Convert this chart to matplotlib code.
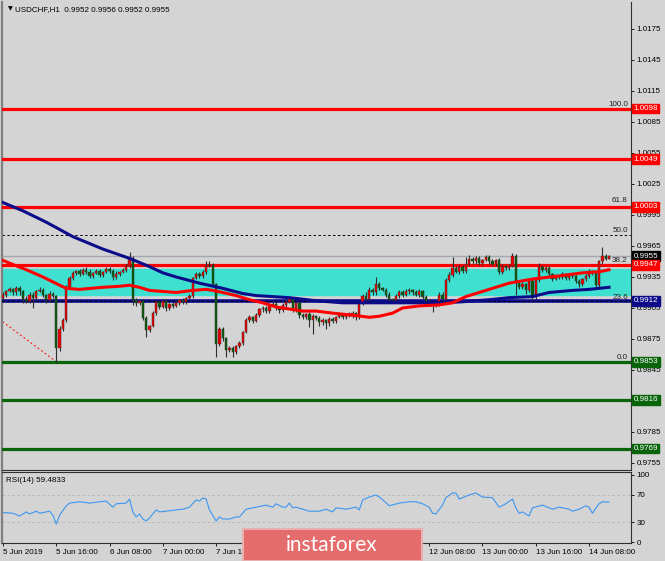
import matplotlib.pyplot as plt
import matplotlib.transforms as mtransforms
from matplotlib.patches import Rectangle
import numpy as np

plt.rcParams['font.family'] = ['Liberation Sans', 'DejaVu Sans']

# USDCHF H1 closes, bar 0 = 5 Jun 00:00 ... bar 182 = 14 Jun 14:00
closes = [
    0.9918, 0.9921, 0.9923, 0.9920, 0.9924, 0.9921, 0.9914, 0.9912, 0.9918, 0.9915,
    0.9921, 0.9922, 0.9918, 0.9913, 0.9919, 0.9917, 0.9866, 0.9885, 0.9893, 0.9925,
    0.9934, 0.9939, 0.9941, 0.9938, 0.9942, 0.9940, 0.9936, 0.9939, 0.9941, 0.9937,
    0.9940, 0.9943, 0.9941, 0.9935, 0.9938, 0.9940, 0.9942, 0.9946, 0.9953, 0.9913,
    0.9910, 0.9912, 0.9895, 0.9884, 0.9888, 0.9900, 0.9911, 0.9906, 0.9912, 0.9905,
    0.9909, 0.9907, 0.9910, 0.9913, 0.9911, 0.9915, 0.9917, 0.9934, 0.9938, 0.9936,
    0.9940, 0.9946, 0.9947, 0.9928, 0.9870, 0.9885, 0.9876, 0.9864, 0.9866, 0.9862,
    0.9868, 0.9871, 0.9882, 0.9893, 0.9896, 0.9892, 0.9898, 0.9904, 0.9905, 0.9902,
    0.9907, 0.9909, 0.9905, 0.9903, 0.9908, 0.9911, 0.9914, 0.9903, 0.9910, 0.9898,
    0.9896, 0.9899, 0.9893, 0.9897, 0.9895, 0.9891, 0.9893, 0.9890, 0.9894, 0.9892,
    0.9896, 0.9898, 0.9896, 0.9899, 0.9897, 0.9900, 0.9896, 0.9910, 0.9917, 0.9914,
    0.9922, 0.9920, 0.9928, 0.9924, 0.9922, 0.9918, 0.9914, 0.9913, 0.9917, 0.9920,
    0.9918, 0.9921, 0.9922, 0.9920, 0.9918, 0.9921, 0.9916, 0.9912, 0.9910, 0.9908,
    0.9909, 0.9918, 0.9914, 0.9932, 0.9937, 0.9944, 0.9940, 0.9945, 0.9941, 0.9948,
    0.9952, 0.9950, 0.9953, 0.9949, 0.9951, 0.9954, 0.9950, 0.9948, 0.9951, 0.9940,
    0.9946, 0.9944, 0.9946, 0.9955, 0.9930, 0.9925, 0.9928, 0.9922, 0.9931, 0.9916,
    0.9932, 0.9945, 0.9942, 0.9944, 0.9938, 0.9933, 0.9936, 0.9935, 0.9938, 0.9934,
    0.9937, 0.9936, 0.9931, 0.9928, 0.9933, 0.9936, 0.9941, 0.9939, 0.9927, 0.9950,
    0.9955, 0.9952, 0.9955]
first_open = 0.9915
# wick lengths beyond the body, in pips
wick_up = [
    2, 1, 2, 1, 2, 2, 1, 3, 2, 2, 1, 3, 2, 1, 2, 1, 1, 3, 2, 2,
    2, 2, 1, 2, 2, 3, 3, 1, 2, 2, 1, 2, 2, 2, 3, 1, 2, 2, 6, 2,
    2, 1, 2, 2, 1, 2, 2, 1, 2, 2, 1, 2, 2, 1, 2, 1, 2, 1, 2, 2,
    2, 4, 3, 2, 1, 2, 2, 1, 2, 2, 1, 2, 1, 2, 2, 1, 2, 1, 2, 2,
    3, 2, 2, 1, 2, 3, 2, 2, 1, 2, 2, 1, 2, 2, 1, 2, 2, 1, 2, 2,
    1, 2, 2, 1, 2, 2, 1, 2, 2, 3, 3, 2, 7, 2, 1, 2, 2, 1, 2, 2,
    2, 2, 2, 1, 2, 2, 1, 2, 2, 1, 2, 2, 2, 2, 3, 10, 2, 2, 2, 6,
    4, 2, 2, 2, 1, 2, 2, 2, 1, 2, 2, 1, 2, 3, 2, 2, 2, 1, 2, 2,
    1, 4, 2, 2, 2, 1, 2, 1, 2, 1, 2, 2, 1, 2, 1, 2, 2, 1, 2, 1,
    9, 2, 1]
wick_dn = [
    2, 2, 1, 2, 2, 3, 4, 2, 2, 10, 2, 1, 2, 3, 2, 2, 14, 3, 2, 2,
    1, 2, 2, 2, 1, 2, 2, 2, 1, 2, 2, 1, 2, 3, 2, 2, 1, 2, 2, 5,
    3, 2, 2, 7, 2, 1, 2, 2, 1, 3, 2, 2, 1, 2, 2, 2, 1, 2, 1, 2,
    2, 2, 1, 2, 12, 2, 3, 6, 2, 4, 2, 2, 2, 1, 2, 2, 1, 2, 3, 2,
    2, 1, 2, 3, 2, 2, 1, 2, 2, 3, 2, 2, 6, 13, 2, 3, 2, 5, 2, 2,
    2, 1, 2, 2, 1, 2, 3, 2, 2, 2, 1, 2, 2, 2, 1, 2, 2, 3, 2, 2,
    2, 1, 2, 2, 1, 2, 2, 2, 3, 7, 2, 2, 2, 2, 2, 2, 1, 2, 2, 2,
    1, 2, 2, 2, 2, 1, 2, 2, 2, 2, 2, 2, 2, 1, 12, 2, 2, 3, 2, 3,
    2, 2, 2, 2, 2, 2, 1, 2, 2, 2, 2, 2, 2, 3, 2, 2, 2, 2, 3, 2,
    2, 1, 0]

# moving averages (bar index, price)
ma_red_idx = [0, 3, 7, 12, 17, 19, 23, 30, 35, 38, 41, 44, 48, 52, 57, 61, 63, 66, 70, 74,
              78, 82, 86, 90, 94, 99, 105, 110, 113, 117, 120, 125, 131, 135, 139, 145,
              152, 159, 167, 174, 179, 182]
ma_red_val = [0.9951, 0.9947, 0.9942, 0.9935, 0.9927, 0.9924, 0.9923, 0.9925, 0.9926, 0.9927,
              0.9925, 0.9922, 0.9921, 0.9920, 0.9922, 0.9923, 0.9922, 0.9920, 0.9917, 0.9913,
              0.9910, 0.9906, 0.9904, 0.9902, 0.9902, 0.9900, 0.9898, 0.9896, 0.9897, 0.9900,
              0.9905, 0.9907, 0.9908, 0.9910, 0.9916, 0.9922, 0.9929, 0.9933, 0.9936, 0.9939,
              0.9940, 0.9942]
ma_blue_idx = [0, 6, 13, 21, 30, 38, 44, 48, 52, 59, 66, 72, 76, 86, 94, 102, 132, 138,
               146, 152, 159, 164, 171, 176, 182]
ma_blue_val = [1.0007, 0.9999, 0.9988, 0.9974, 0.9962, 0.9953, 0.9945, 0.9939, 0.9935,
               0.9929, 0.9924, 0.9919, 0.9917, 0.9915, 0.9912, 0.9910, 0.9910, 0.9911,
               0.9913, 0.9915, 0.9916, 0.9920, 0.9922, 0.9923, 0.9925]

# RSI(14)
rsi_idx = [0, 3, 5, 7, 8, 10, 11, 13, 14, 15, 16, 17, 19, 20, 23, 26, 29, 31, 33, 34,
           37, 38, 39, 40, 41, 42, 43, 44, 46, 47, 49, 52, 54, 56, 58, 59, 60, 61, 62, 64,
           65, 66, 68, 70, 71, 73, 76, 79, 81, 82, 84, 85, 86, 87, 88, 90, 92, 95, 97, 99,
           100, 103, 106, 107, 108, 110, 112, 113, 114, 116, 119, 122, 124, 126, 128, 129,
           130, 132, 133, 135, 136, 137, 140, 142, 143, 144, 147, 149, 151, 153, 154, 155,
           156, 158, 159, 162, 165, 167, 170, 171, 173, 175, 176, 177, 179, 180, 182]
rsi_val = [44, 43, 39, 45, 42, 46, 43, 45, 46, 40, 27, 40, 54, 58, 60, 58, 60, 61, 52, 57,
           58, 64, 45, 37.5, 42, 34.5, 31.6, 36, 48, 45, 46, 48, 49, 52, 62.7, 61, 65.6, 64,
           48, 31.6, 37.5, 34.5, 34.5, 37.5, 37.5, 49, 52, 55, 52, 57, 52, 52, 58, 51, 52,
           49, 46, 46, 49, 45, 51, 49, 52, 48, 62.7, 67, 70, 67, 63, 54, 58, 60, 60, 57, 52,
           43, 42, 55, 66, 73, 73, 64, 70, 73, 70, 67, 66, 52, 57, 64, 51, 43, 45, 39, 51,
           55, 49, 52, 49, 46, 49, 54, 52, 43, 57, 60, 59.5]

red_levels = [1.0098, 1.0049, 1.0003, 0.9947]
blue_level = 0.9912
green_levels = [0.9853, 0.9816, 0.9769]
bid = 0.9955
zone = (0.99176, 0.99427)
fib_low, fib_high = 0.9853, 1.0098
fib_bars = (-86, 16)
fib_ratios = [0.0, 0.236, 0.382, 0.5, 0.618, 1.0]
fib_names = ['0.0', '23.6', '38.2', '50.0', '61.8', '100.0']

xtick_idx = [0, 16, 32, 48, 64, 80, 96, 112, 128, 144, 160, 176]
# labels for 10-11 Jun sit under the watermark in the source, left blank
xtick_lbl = ['5 Jun 2019', '5 Jun 16:00', '6 Jun 08:00', '7 Jun 00:00', '7 Jun 16:00',
             '', '', '', '12 Jun 08:00',
             '13 Jun 00:00', '13 Jun 16:00', '14 Jun 08:00']

BG = '#d4d4d4'
RED = '#ff0000'
NAVY = '#0c0c8a'
GREEN = '#0a640a'
FS = 5.8

fig = plt.figure(figsize=(6.65, 5.61), dpi=100, facecolor=BG)
ax = fig.add_axes([2 / 665, 1 - 470 / 561, 629 / 665, 468 / 561], facecolor=BG)
ax2 = fig.add_axes([2 / 665, 1 - 543 / 561, 629 / 665, 71 / 561], facecolor=BG, sharex=ax)

# candles
c = np.array(closes)
o = np.concatenate([[first_open], c[:-1]])
hi = np.maximum(o, c) + np.array(wick_up) * 0.0001
lo = np.minimum(o, c) - np.array(wick_dn) * 0.0001
idx = np.arange(len(c))
up = c >= o
ax.vlines(idx, lo, hi, color='#2e2e2e', lw=0.8, zorder=4)
body = np.where(np.abs(c - o) < 0.00004, 0.00004, c - o)
ax.bar(idx, body, bottom=o, width=0.7, color=np.where(up, '#f00000', '#0a5f0a'),
       edgecolor='#2e2e2e', linewidth=0.3, zorder=5)

# zone, levels
ax.axhspan(zone[0], zone[1], color='#40e0d0', zorder=1)
ax.axhline(bid, color='#a4a8ae', lw=1, zorder=2)
# fib ratios that fall on a drawn level are hidden by it in the source
ax.axhline(fib_low + 0.5 * (fib_high - fib_low), color='black', lw=0.7,
           dashes=(2.5, 2.5), zorder=2)
for lvl in red_levels:
    ax.axhline(lvl, color=RED, lw=2.3, zorder=3)
for lvl in green_levels:
    ax.axhline(lvl, color=GREEN, lw=2.3, zorder=3)
ax.axhline(blue_level, color=NAVY, lw=2.6, zorder=3)
ax.axhline(blue_level, color='black', lw=0.7, dashes=(2.5, 2.5), zorder=3.5)
ax.plot(fib_bars, (fib_high, fib_low), color=RED, lw=0.7, dashes=(2, 2.5), zorder=2)

ax.plot(ma_blue_idx, ma_blue_val, color=NAVY, lw=2.2, zorder=6)
ax.plot(ma_red_idx, ma_red_val, color=RED, lw=2.2, zorder=6)

trans = mtransforms.blended_transform_factory(ax.transAxes, ax.transData)
for r, name in zip(fib_ratios, fib_names):
    lvl = fib_low + r * (fib_high - fib_low)
    ax.text(0.995, lvl + 0.00008, name, transform=trans, ha='right', va='bottom',
            fontsize=FS, color='#202020', zorder=7)

ax.set_xlim(-0.3, 188.6)
ax.set_ylim(0.97482, 1.02011)
yt = np.round(np.arange(0.9755, 1.0176, 0.003), 4)
ax.set_yticks(yt)
# 0.9815 is covered by the 0.9816 box in the source
ax.set_yticklabels(['' if abs(v - 0.9815) < 1e-6 else '%.4f' % v for v in yt])
ax.yaxis.tick_right()
ax.tick_params(axis='y', labelsize=FS, length=2, width=0.6, pad=2, colors='black')
ax.tick_params(axis='x', bottom=False, labelbottom=False)
ax.spines['top'].set_visible(False)
ax.spines['left'].set_color('#808080')
ax.spines['left'].set_linewidth(1.6)
ax.spines['right'].set_color('#303030')
ax.spines['bottom'].set_color('#303030')

# price boxes on the right scale
boxes = [(1.0098, RED), (1.0049, RED), (1.0003, RED), (0.9955, '#000000'),
         (0.9947, RED), (0.9912, NAVY), (0.9853, GREEN), (0.9816, GREEN), (0.9769, GREEN)]
for lvl, col in boxes:
    ax.text(1.004, lvl, '%.4f' % lvl, transform=trans, ha='left', va='center',
            fontsize=FS, color='white', zorder=8, clip_on=False,
            bbox=dict(boxstyle='square,pad=0.18', fc=col, ec=col))

ax.text(0.009, 0.99, '\u25bc', transform=ax.transAxes, fontsize=4.5, va='top', ha='left',
        family=['DejaVu Sans'])
ax.text(0.021, 0.992, 'USDCHF,H1  0.9952 0.9956 0.9952 0.9955', transform=ax.transAxes,
        fontsize=FS, va='top', ha='left')

# RSI panel
ax2.axhline(70, color='#b4b4b4', lw=0.6, dashes=(3, 3))
ax2.axhline(30, color='#b4b4b4', lw=0.6, dashes=(3, 3))
ax2.plot(rsi_idx, rsi_val, color='#3c96f0', lw=0.8)
ax2.set_ylim(-1, 104)
ax2.set_yticks([0, 30, 70, 100])
ax2.yaxis.tick_right()
ax2.tick_params(axis='y', labelsize=FS, length=2, width=0.6, pad=2)
ax2.text(0.006, 0.93, 'RSI(14) 59.4833', transform=ax2.transAxes, fontsize=FS,
         va='top', ha='left')
ax2.set_xticks(xtick_idx)
ax2.set_xticklabels(xtick_lbl, ha='left')
ax2.tick_params(axis='x', labelsize=FS, length=2.5, width=0.6, pad=1.5)
for s in ax2.spines.values():
    s.set_color('#303030')
ax2.spines['left'].set_color('#808080')
ax2.spines['left'].set_linewidth(1.6)

# watermark banner
fig.add_artist(Rectangle((243 / 665, 0), 179 / 665, 32 / 561, transform=fig.transFigure,
                         fc='#e46c6c', ec='#e8b0b0', lw=1.5, zorder=10))
fig.text(332 / 665, 16 / 561, 'instaforex', color='white', fontsize=15, ha='center',
         va='center', family=['Lato', 'DejaVu Sans'], zorder=11)

fig.savefig('out.png', dpi=100, facecolor=BG)
